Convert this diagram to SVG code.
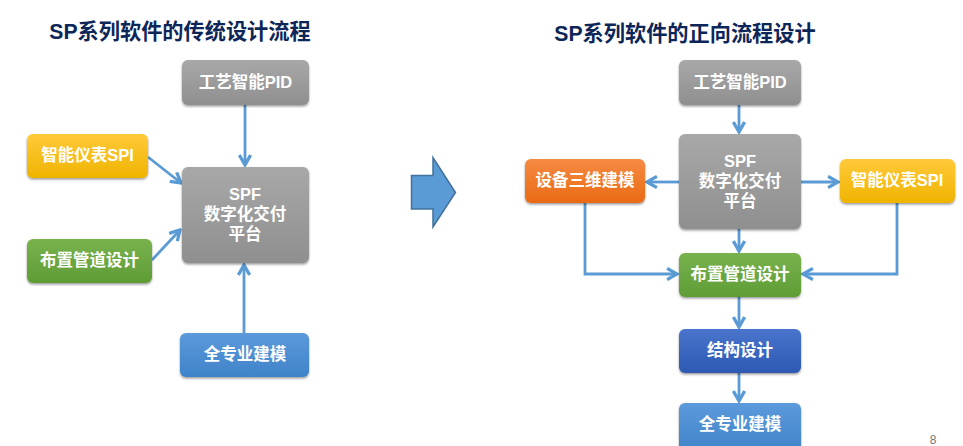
<svg xmlns="http://www.w3.org/2000/svg" width="963" height="446" viewBox="0 0 963 446">
<style>
text{font-family:"Liberation Sans","Noto Sans CJK SC",sans-serif;font-weight:700;text-anchor:middle}
.t{fill:#fff;font-size:16.500px}
.h{fill:#0d2658;font-size:21.200px}
.c{fill:none;stroke:#5b9bd5;stroke-width:2.800;marker-end:url(#a)}
.n rect{rx:6px;ry:6px;filter:url(#s)}
</style>
<defs>
<filter id="s" x="-10%" y="-10%" width="120%" height="125%"><feDropShadow dx="0" dy="1.500" stdDeviation="1" flood-color="#000" flood-opacity=".4"/></filter>
<marker id="a" markerUnits="userSpaceOnUse" markerWidth="14" markerHeight="14" refX="10.500" refY="6" orient="auto" viewBox="0 0 12 12"><path d="M2 1.200 10.500 6 2 10.800" fill="none" stroke="#5b9bd5" stroke-width="2.800"/></marker>
<linearGradient id="gray" x1="0" y1="0" x2="0" y2="1"><stop offset="0" stop-color="#a8a8a8"/><stop offset="1" stop-color="#8f8f8f"/></linearGradient>
<linearGradient id="yellow" x1="0" y1="0" x2="0" y2="1"><stop offset="0" stop-color="#ffc93a"/><stop offset="1" stop-color="#efb400"/></linearGradient>
<linearGradient id="green" x1="0" y1="0" x2="0" y2="1"><stop offset="0" stop-color="#78b24e"/><stop offset="1" stop-color="#5f9c35"/></linearGradient>
<linearGradient id="blue" x1="0" y1="0" x2="0" y2="1"><stop offset="0" stop-color="#5c9adb"/><stop offset="1" stop-color="#3f83c9"/></linearGradient>
<linearGradient id="orange" x1="0" y1="0" x2="0" y2="1"><stop offset="0" stop-color="#f58a43"/><stop offset="1" stop-color="#ea6a14"/></linearGradient>
<linearGradient id="navy" x1="0" y1="0" x2="0" y2="1"><stop offset="0" stop-color="#4a74cc"/><stop offset="1" stop-color="#2c59b3"/></linearGradient>
</defs>
<rect width="963" height="446" fill="#fff"/>
<text class="h" x="180" y="39">SP系列软件的传统设计流程</text>
<text class="h" x="685" y="41">SP系列软件的正向流程设计</text>
<g id="connectors">
<path class="c" d="M245 105V165"/>
<path class="c" d="M148 157 181 183"/>
<path class="c" d="M152 260 180 230"/>
<path class="c" d="M244 333V265"/>
<path class="c" d="M739 105V132"/>
<path class="c" d="M679 182H647"/>
<path class="c" d="M801 182H838"/>
<path class="c" d="M739 229V251"/>
<path class="c" d="M585 203V274H677"/>
<path class="c" d="M897 203V274H803"/>
<path class="c" d="M739 297V327"/>
<path class="c" d="M739 373V401"/>
</g>
<g id="big-arrow"><path d="M411.500 175.500H433V157.500L455.500 192.500 433 227V209H411.500Z" fill="#5b9bd5" stroke="#41719c" stroke-width="1.500"/></g>
<g id="l-pid" class="n"><rect x="182" y="60" width="127" height="45" fill="url(#gray)"/><text class="t" x="245.500" y="88">工艺智能PID</text></g>
<g id="l-spi" class="n"><rect x="27" y="134" width="121" height="44" fill="url(#yellow)"/><text class="t" x="87.500" y="161">智能仪表SPI</text></g>
<g id="l-spf" class="n"><rect x="182" y="167" width="127" height="96" fill="url(#gray)"/><text class="t"><tspan x="245" y="200">SPF</tspan><tspan x="245" y="220">数字化交付</tspan><tspan x="245" y="240">平台</tspan></text></g>
<g id="l-layout" class="n"><rect x="27" y="239" width="125" height="44" fill="url(#green)"/><text class="t" x="89.500" y="266">布置管道设计</text></g>
<g id="l-all" class="n"><rect x="180" y="333" width="129" height="44" fill="url(#blue)"/><text class="t" x="245" y="360">全专业建模</text></g>
<g id="r-pid" class="n"><rect x="679" y="60" width="122" height="45" fill="url(#gray)"/><text class="t" x="740" y="88">工艺智能PID</text></g>
<g id="r-spf" class="n"><rect x="679" y="134" width="122" height="95" fill="url(#gray)"/><text class="t"><tspan x="740" y="167">SPF</tspan><tspan x="740" y="187">数字化交付</tspan><tspan x="740" y="207">平台</tspan></text></g>
<g id="r-equip" class="n"><rect x="525" y="159" width="120" height="44" fill="url(#orange)"/><text class="t" x="585" y="186">设备三维建模</text></g>
<g id="r-spi" class="n"><rect x="840" y="159" width="115" height="44" fill="url(#yellow)"/><text class="t" x="897" y="186">智能仪表SPI</text></g>
<g id="r-layout" class="n"><rect x="679" y="253" width="122" height="44" fill="url(#green)"/><text class="t" x="740" y="280">布置管道设计</text></g>
<g id="r-struct" class="n"><rect x="679" y="329" width="122" height="44" fill="url(#navy)"/><text class="t" x="740" y="356">结构设计</text></g>
<g id="r-all" class="n"><rect x="679" y="403" width="122" height="50" fill="url(#blue)"/><text class="t" x="740" y="430">全专业建模</text></g>
<text x="933" y="444" style="font-family:'Liberation Sans',sans-serif;font-weight:400;font-size:12px;fill:#777">8</text>
</svg>
